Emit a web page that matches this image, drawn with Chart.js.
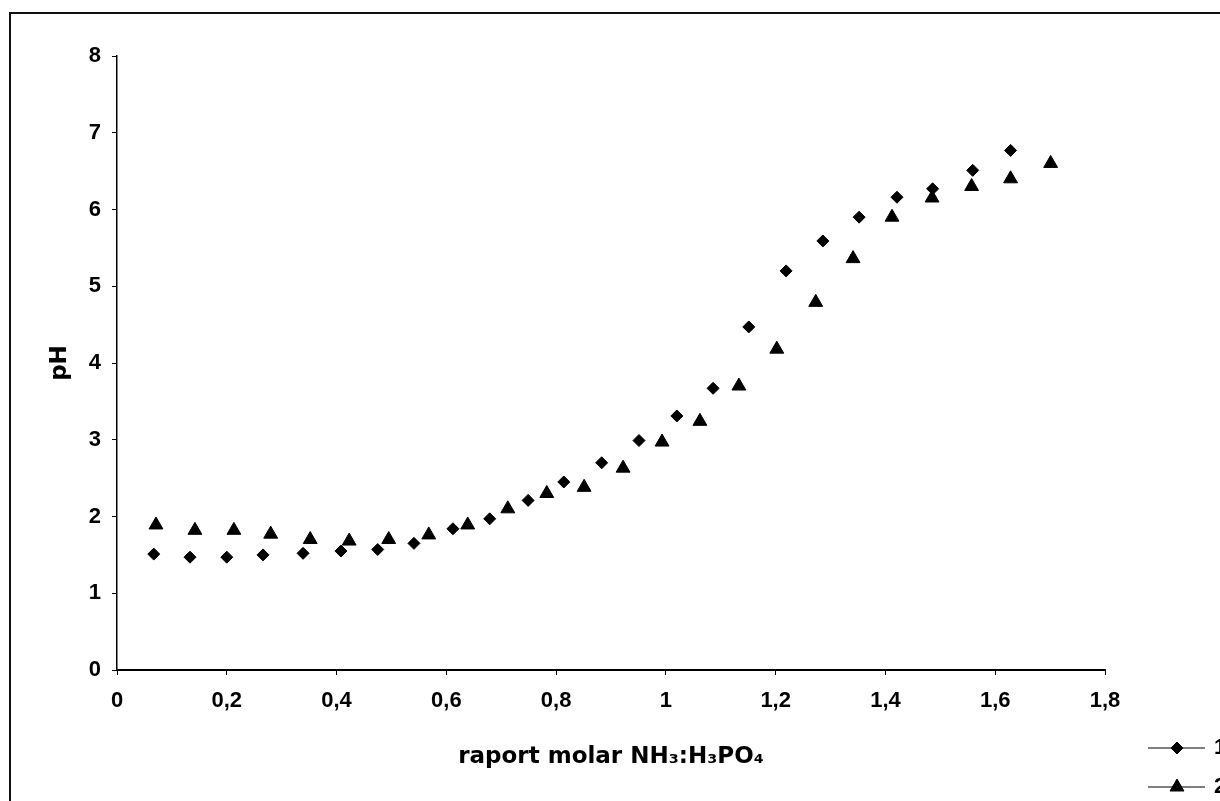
<!DOCTYPE html>
<html lang="ro">
<head>
  <meta charset="UTF-8">
  <title>pH in functie de raportul molar NH3:H3PO4</title>
  <script src="https://cdn.jsdelivr.net/npm/chart.js"></script>
  <style>
    html, body {
      margin: 0;
      padding: 0;
      background: #fff;
      overflow: hidden;
    }
    #frame {
      position: absolute;
      left: 9px;
      top: 12px;
      width: 1250px;
      height: 830px;
      border: 2px solid #111;
    }
    #frame canvas { display: block; }
  </style>
</head>
<body>
  <div id="frame"><canvas id="phChart" width="1250" height="830"></canvas></div>

  <script>
    // seria 1 (romburi)
    const ratio1 = [0.067, 0.133, 0.200, 0.266, 0.339, 0.408, 0.475, 0.541, 0.612, 0.679, 0.749, 0.814,
                    0.883, 0.951, 1.020, 1.086, 1.151, 1.219, 1.286, 1.352, 1.421, 1.486, 1.559, 1.628];
    const ph1 = [1.51, 1.47, 1.47, 1.50, 1.52, 1.55, 1.57, 1.65, 1.84, 1.97, 2.21, 2.45,
                 2.70, 2.99, 3.31, 3.67, 4.47, 5.20, 5.59, 5.90, 6.16, 6.27, 6.51, 6.77];

    // seria 2 (triunghiuri)
    const ratio2 = [0.071, 0.142, 0.213, 0.280, 0.352, 0.423, 0.495, 0.568, 0.639, 0.712, 0.783, 0.851,
                    0.922, 0.993, 1.062, 1.133, 1.202, 1.273, 1.341, 1.412, 1.485, 1.557, 1.628, 1.701];
    const ph2 = [1.89, 1.82, 1.82, 1.77, 1.70, 1.68, 1.70, 1.76, 1.89, 2.10, 2.30, 2.38,
                 2.63, 2.97, 3.24, 3.70, 4.18, 4.79, 5.36, 5.90, 6.15, 6.30, 6.40, 6.60];

    const seriesNames = ['1', '2'];
    const xTitle = 'raport molar NH₃:H₃PO₄';
    const yTitle = 'pH';

    const toPoints = (xs, ys) => xs.map((x, i) => ({ x: x, y: ys[i] }));
    // virgula zecimala pe axe
    const fmt = v => String(Math.round(v * 10) / 10).replace('.', ',');

    const tickFont = { family: '"Liberation Sans", Arial, sans-serif', size: 22, weight: 'bold' };
    const titleFont = { family: '"DejaVu Sans", sans-serif', size: 23, weight: 'bold' };

    // legenda in coltul din dreapta jos, cu linie si marker ca in Excel
    const seriesKey = {
      id: 'seriesKey',
      afterDraw(chart) {
        const { ctx, chartArea } = chart;
        const x0 = chartArea.right + 43;
        const y0 = chartArea.bottom + 78;
        ctx.save();
        chart.data.datasets.forEach((ds, i) => {
          const y = y0 + i * 39;
          ctx.strokeStyle = '#000';
          ctx.fillStyle = '#000';
          ctx.lineWidth = 1;
          ctx.beginPath();
          ctx.moveTo(x0, y);
          ctx.lineTo(x0 + 57, y);
          ctx.stroke();
          Chart.helpers.drawPoint(ctx, {
            pointStyle: ds.pointStyle,
            radius: ds.pointRadius,
            rotation: 0,
            borderWidth: ds.pointBorderWidth
          }, x0 + 29, y);
          ctx.font = 'bold 22px "Liberation Sans", Arial, sans-serif';
          ctx.textBaseline = 'middle';
          ctx.fillText(ds.label, x0 + 66, y);
        });
        ctx.restore();
      }
    };

    new Chart(document.getElementById('phChart'), {
      type: 'scatter',
      data: {
        datasets: [
          {
            label: seriesNames[0],
            data: toPoints(ratio1, ph1),
            pointStyle: 'rectRot',
            pointRadius: 6,
            pointBorderWidth: 1,
            pointBackgroundColor: '#000',
            pointBorderColor: '#000',
            showLine: false
          },
          {
            label: seriesNames[1],
            data: toPoints(ratio2, ph2),
            pointStyle: 'triangle',
            pointRadius: 8,
            pointBorderWidth: 1,
            pointBackgroundColor: '#000',
            pointBorderColor: '#000',
            showLine: false
          }
        ]
      },
      options: {
        responsive: false,
        animation: false,
        events: [],
        layout: { padding: { left: 26, top: 42, right: 156, bottom: 64 } },
        plugins: {
          legend: { display: false },
          tooltip: { enabled: false }
        },
        scales: {
          x: {
            type: 'linear',
            min: 0,
            max: 1.8,
            ticks: { stepSize: 0.2, color: '#000', font: tickFont, padding: 13, maxRotation: 0, callback: fmt },
            grid: { drawOnChartArea: false, drawTicks: true, tickLength: 5, color: '#000', lineWidth: 1 },
            border: { display: true, color: '#000', width: 2 },
            title: { display: true, text: xTitle, color: '#000', font: titleFont, padding: { top: 0, bottom: 9 } },
            afterFit: s => { s.height = 110; }
          },
          y: {
            type: 'linear',
            min: 0,
            max: 8,
            ticks: { stepSize: 1, color: '#000', font: tickFont, padding: 11, callback: fmt },
            grid: { drawOnChartArea: false, drawTicks: true, tickLength: 5, color: '#000', lineWidth: 1 },
            border: { display: true, color: '#000', width: 1.5 },
            title: { display: true, text: yTitle, color: '#000', font: titleFont, padding: { top: 9, bottom: 0 } },
            afterFit: s => { s.width = 80; }
          }
        }
      },
      plugins: [seriesKey]
    });
  </script>
</body>
</html>
